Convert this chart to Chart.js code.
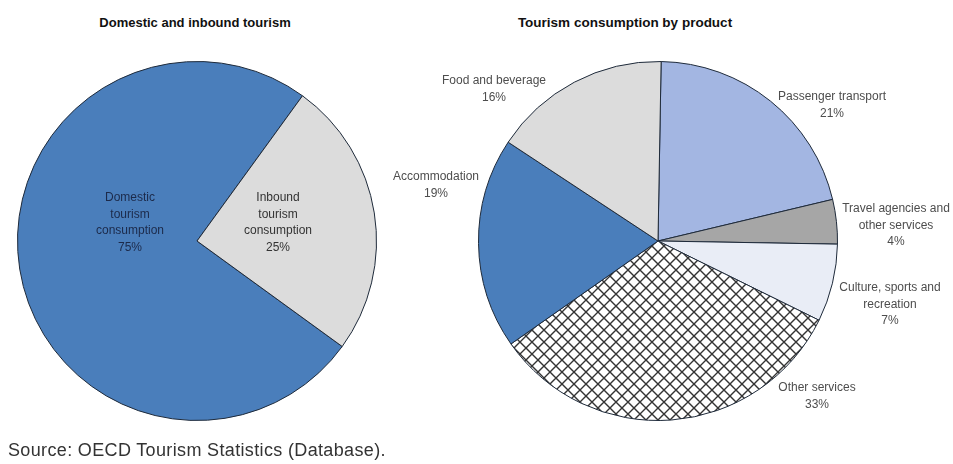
<!DOCTYPE html>
<html>
<head>
<meta charset="utf-8">
<script src="https://cdn.jsdelivr.net/npm/chart.js@4.4.1/dist/chart.umd.min.js"></script>
<style>
  body { margin: 0; background: #fff; width: 953px; height: 464px; position: relative; overflow: hidden;
         font-family: "Liberation Sans", Arial, sans-serif; }
  .title { position: absolute; top: 15px; font-weight: bold; font-size: 13px; color: #111; text-align: center; width: 300px; }
  #t1 { left: 45px; }
  #t2 { left: 475px; font-size: 13.5px; }
  #source { position: absolute; left: 8px; top: 440px; font-size: 18px; letter-spacing: 0.35px; color: #333; }
  #left { position: absolute; left: 0; top: 0; }
  #right { position: absolute; left: 370px; top: 0; }
</style>
</head>
<body>
<div class="title" id="t1">Domestic and inbound tourism</div>
<div class="title" id="t2">Tourism consumption by product</div>
<canvas id="left" width="400" height="464"></canvas>
<canvas id="right" width="583" height="464"></canvas>
<div id="source">Source: OECD Tourism Statistics (Database).</div>
<script>
// ----- data -----
const tourismLabels = ["Domestic tourism consumption", "Inbound tourism consumption"];
const tourismShares = [75, 25];

const productLabels = ["Passenger transport", "Travel agencies and other services", "Culture, sports and recreation",
                       "Other services", "Accommodation", "Food and beverage"];
const productShares = [21, 4, 7, 33, 19, 16];

// ----- label layout (text lines drawn next to each slice, offsets from pie centre) -----
const tourismText = [
  { lines: ["Domestic", "tourism", "consumption"], dx: -67, dy: -43, color: "#1c2a4a" },
  { lines: ["Inbound", "tourism", "consumption"], dx: 81, dy: -43, color: "#333" }
];
const productText = [
  { lines: ["Passenger transport"], dx: 174, dy: -144 },
  { lines: ["Travel agencies and", "other services"], dx: 238, dy: -32 },
  { lines: ["Culture, sports and", "recreation"], dx: 232, dy: 47 },
  { lines: ["Other services"], dx: 159, dy: 147 },
  { lines: ["Accommodation"], dx: -222, dy: -64 },
  { lines: ["Food and beverage"], dx: -164, dy: -160 }
];

// crosshatch fill for "Other services"
function crossHatch() {
  const c = document.createElement("canvas");
  c.width = 12; c.height = 12;
  const g = c.getContext("2d");
  g.fillStyle = "#fff";
  g.fillRect(0, 0, 12, 12);
  g.strokeStyle = "#333";
  g.lineWidth = 1.4;
  g.beginPath();
  g.moveTo(0, 0); g.lineTo(12, 12);
  g.moveTo(12, 0); g.lineTo(0, 12);
  g.stroke();
  return g.createPattern(c, "repeat");
}

const sliceLabels = {
  id: "sliceLabels",
  afterDraw(chart, args, opts) {
    const ctx = chart.ctx;
    const area = chart.chartArea;
    const cx = (area.left + area.right) / 2;
    const cy = (area.top + area.bottom) / 2;
    const values = chart.data.datasets[0].data;
    ctx.save();
    ctx.font = "12px 'Liberation Sans', Arial, sans-serif";
    ctx.textAlign = "center";
    ctx.textBaseline = "middle";
    opts.items.forEach((it, i) => {
      const lines = it.lines.concat([values[i] + "%"]);
      ctx.fillStyle = it.color || "#4d4d4d";
      lines.forEach((s, k) => ctx.fillText(s, cx + it.dx, cy + it.dy + k * 16.5));
    });
    ctx.restore();
  }
};

Chart.register(sliceLabels);

const common = {
  responsive: false,
  animation: false,
  plugins: {
    legend: { display: false },
    tooltip: { enabled: false }
  }
};

new Chart(document.getElementById("left"), {
  type: "pie",
  data: {
    labels: tourismLabels,
    datasets: [{
      data: tourismShares,
      backgroundColor: ["#4a7ebb", "#dcdcdc"],
      borderColor: "#1e2a3a",
      borderWidth: 1
    }]
  },
  options: {
    ...common,
    rotation: 126,
    layout: { padding: { left: 17, right: 23, top: 61, bottom: 43 } },
    plugins: { ...common.plugins, sliceLabels: { items: tourismText } }
  }
});

new Chart(document.getElementById("right"), {
  type: "pie",
  data: {
    labels: productLabels,
    datasets: [{
      data: productShares,
      backgroundColor: ["#a3b6e2", "#a6a6a6", "#e9edf6", crossHatch(), "#4a7ebb", "#dcdcdc"],
      borderColor: "#1e2a3a",
      borderWidth: 1
    }]
  },
  options: {
    ...common,
    rotation: 1,
    layout: { padding: { left: 108, right: 115, top: 61, bottom: 43 } },
    plugins: { ...common.plugins, sliceLabels: { items: productText } }
  }
});
</script>
</body>
</html>
